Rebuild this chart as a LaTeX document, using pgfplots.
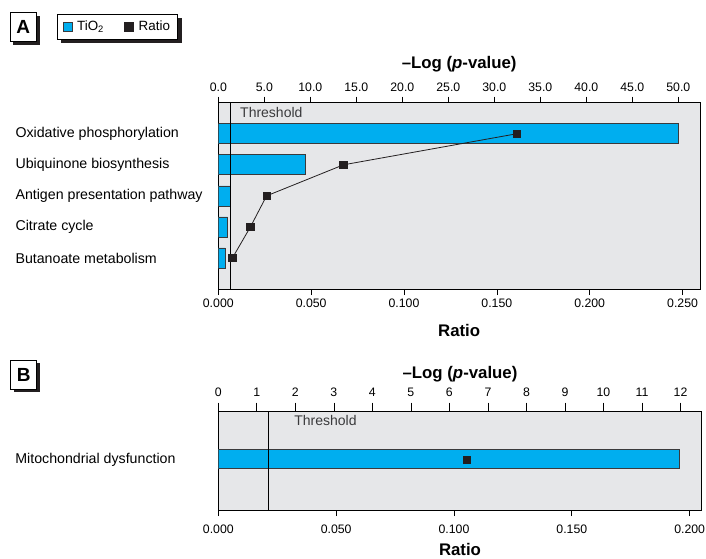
\documentclass[border=0pt]{standalone}
\usepackage{fontspec}
\setmainfont{Liberation Sans}
\usepackage{pgfplots}
\pgfplotsset{compat=1.18}
\usetikzlibrary{shadows}
\definecolor{boxgray}{HTML}{E6E7E9}
\definecolor{tiocyan}{HTML}{00AEEF}
\definecolor{rblack}{HTML}{231F20}
\definecolor{bdark}{HTML}{3A3A3C}
\newcommand{\tickfont}{\fontsize{12.3}{14}\selectfont}
\newcommand{\catfont}{\fontsize{14.2}{16}\selectfont}
\newcommand{\labfont}{\fontsize{16.8}{19}\selectfont\bfseries}
\pgfplotsset{
  common/.style={
    scale only axis,
    /pgf/number format/assume math mode=true,
    tick label style={font=\tickfont},
    tick align=outside,
    major tick length=6pt,
    every tick/.style={black, line width=0.7pt},
    axis line style={black, line width=0.8pt},
    label style={font=\labfont},
  },
}
\begin{document}
\begin{tikzpicture}
\useasboundingbox (0pt,0pt) rectangle (706pt,-558pt);

% Panel labels
\node[draw=black, line width=0.6pt, fill=white, drop shadow={shadow xshift=3.3pt, shadow yshift=-3.3pt, fill=rblack, opacity=1}, minimum width=26.7pt, minimum height=29.4pt, inner sep=0pt, font=\fontsize{19}{20}\selectfont\bfseries] at (23.3pt,-27pt) {A};
\node[draw=black, line width=0.6pt, fill=white, drop shadow={shadow xshift=3.3pt, shadow yshift=-3.3pt, fill=rblack, opacity=1}, minimum width=26pt, minimum height=29pt, inner sep=0pt, font=\fontsize{19}{20}\selectfont\bfseries] at (23.7pt,-374.5pt) {B};

% legend shadow (decoration behind the legend box)
\fill[rblack] (60.6pt,-17.6pt) rectangle (181.6pt,-42.6pt);

% ---------------- Panel A: bars (-log p, top axis)
\begin{axis}[common,
  at={(218.3pt,-289pt)}, anchor=south west,
  width=481.7pt, height=186.3pt,
  xmin=0, xmax=52.36, ymin=0, ymax=6,
  axis x line*=top, axis y line*=left,
  axis background/.style={fill=boxgray, draw=black, line width=0.8pt},
  xtick={0,5,10,15,20,25,30,35,40,45,50},
  xticklabel style={yshift=2pt, /pgf/number format/.cd, fixed, fixed zerofill, precision=1},
  xlabel={\textendash Log (\textit{p}-value)},
  xlabel style={yshift=4pt},
  ytick={1,2,3,4,5},
  yticklabels={Butanoate metabolism, Citrate cycle, Antigen presentation pathway, Ubiquinone biosynthesis, Oxidative phosphorylation},
  yticklabel style={font=\catfont, anchor=west, xshift=-200.3pt},
  ytick style={draw=none},
]
\addplot[xbar, bar width=20pt, fill=tiocyan, draw=bdark, line width=0.7pt]
  coordinates {(50.0,5) (9.46,4) (1.28,3) (1.02,2) (0.76,1)};
\addplot[black, line width=0.8pt] coordinates {(1.3,0) (1.3,6)};
\node[anchor=west, font=\fontsize{14}{16}\selectfont, text=bdark, inner sep=0pt] at (axis cs:2.36,5.70) {Threshold};
\end{axis}

% ---------------- Panel A: ratio (bottom axis)
\begin{axis}[common,
  at={(218.3pt,-289pt)}, anchor=south west,
  width=481.7pt, height=186.3pt,
  xmin=0, xmax=0.2594, ymin=0, ymax=6,
  axis x line*=bottom, axis y line=none,
  xtick={0,0.05,0.1,0.15,0.2,0.25},
  xticklabel style={/pgf/number format/.cd, fixed, fixed zerofill, precision=3},
  xlabel={Ratio},
  xlabel style={yshift=-10pt},
  legend style={at={(-0.3342,1.4745)}, anchor=north west, draw=black, line width=0.6pt,
    fill=white, font=\fontsize{13.4}{15}\selectfont,
    inner xsep=5pt, inner ysep=4.5pt,
    /tikz/every odd column/.append style={column sep=3pt},
    /tikz/every even column/.append style={column sep=18pt}},
  legend columns=2, legend cell align=left,
  legend image code/.code={\fill[rblack] (0pt,-4.5pt) rectangle (9pt,4.5pt);},
]
\addlegendimage{legend image code/.code={\filldraw[fill=tiocyan, draw=bdark, line width=0.5pt] (0pt,-4.5pt) rectangle (9pt,4.5pt);}}
\addlegendentry{TiO\textsubscript{2}}
\addplot[rblack, line width=0.8pt, mark=square*, mark size=3.6pt, mark options={fill=rblack},
  legend image code/.code={\fill[rblack] (0pt,-4.5pt) rectangle (9pt,4.5pt);}]
  coordinates {(0.1607,5) (0.0674,4) (0.0260,3) (0.0173,2) (0.0076,1)};
\addlegendentry{Ratio}
\end{axis}

% ---------------- Panel B: bars
\begin{axis}[common,
  at={(218.3pt,-510pt)}, anchor=south west,
  width=483.4pt, height=98.3pt,
  xmin=0, xmax=12.55, ymin=0, ymax=2,
  axis x line*=top, axis y line*=left,
  axis background/.style={fill=boxgray, draw=black, line width=0.8pt},
  xtick={0,1,...,12},
  major tick length=9pt,
  xticklabel style={yshift=3pt},
  xlabel={\textendash Log (\textit{p}-value)},
  xlabel style={yshift=-1pt},
  ytick={1.02},
  yticklabels={Mitochondrial dysfunction},
  yticklabel style={font=\catfont, anchor=west, xshift=-197.5pt},
  ytick style={draw=none},
]
\addplot[xbar, bar width=19.3pt, fill=tiocyan, draw=bdark, line width=0.7pt]
  coordinates {(11.97,1.04)};
\addplot[black, line width=0.8pt] coordinates {(1.31,0) (1.31,2)};
\node[anchor=west, font=\fontsize{14}{16}\selectfont, text=bdark, inner sep=0pt] at (axis cs:1.97,1.83) {Threshold};
\end{axis}

% ---------------- Panel B: ratio
\begin{axis}[common,
  at={(218.3pt,-510pt)}, anchor=south west,
  width=483.4pt, height=98.3pt,
  xmin=0, xmax=0.2051, ymin=0, ymax=2,
  axis x line*=bottom, axis y line=none,
  xtick={0,0.05,0.1,0.15,0.2},
  xticklabel style={yshift=-5pt, /pgf/number format/.cd, fixed, fixed zerofill, precision=3},
  xlabel={Ratio},
  xlabel style={yshift=-3pt},
]
\addplot[rblack, only marks, mark=square*, mark size=3.6pt, mark options={fill=rblack}]
  coordinates {(0.1055,1.016)};
\end{axis}
\end{tikzpicture}
\end{document}
